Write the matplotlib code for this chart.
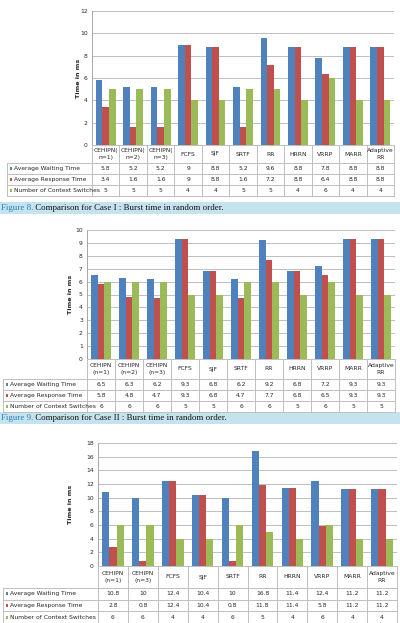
import matplotlib
matplotlib.use("Agg")
import matplotlib.pyplot as plt
from matplotlib.transforms import Affine2D
from matplotlib.patches import Rectangle
import numpy as np

# ---------------- data ----------------
series_names = ["Average Waiting Time", "Average Response Time", "Number of Context Switches"]
series_colors = ["#4F81BD", "#C0504D", "#9BBB59"]

cats1 = ["CEHIPN(\nn=1)", "CEHIPN(\nn=2)", "CEHIPN(\nn=3)", "FCFS", "SJF", "SRTF", "RR", "HRRN", "VRRP", "MARR", "Adaptive\nRR"]
wait1 = [5.8, 5.2, 5.2, 9, 8.8, 5.2, 9.6, 8.8, 7.8, 8.8, 8.8]
resp1 = [3.4, 1.6, 1.6, 9, 8.8, 1.6, 7.2, 8.8, 6.4, 8.8, 8.8]
cs1 = [5, 5, 5, 4, 4, 5, 5, 4, 6, 4, 4]
wait1_lbl = ["5.8", "5.2", "5.2", "9", "8.8", "5.2", "9.6", "8.8", "7.8", "8.8", "8.8"]
resp1_lbl = ["3.4", "1.6", "1.6", "9", "8.8", "1.6", "7.2", "8.8", "6.4", "8.8", "8.8"]
cs1_lbl = ["5", "5", "5", "4", "4", "5", "5", "4", "6", "4", "4"]

cats2 = ["CEHIPN\n(n=1)", "CEHIPN\n(n=2)", "CEHIPN\n(n=3)", "FCFS", "SJF", "SRTF", "RR", "HRRN", "VRRP", "MARR", "Adaptive\nRR"]
wait2 = [6.5, 6.3, 6.2, 9.3, 6.8, 6.2, 9.2, 6.8, 7.2, 9.3, 9.3]
resp2 = [5.8, 4.8, 4.7, 9.3, 6.8, 4.7, 7.7, 6.8, 6.5, 9.3, 9.3]
cs2 = [6, 6, 6, 5, 5, 6, 6, 5, 6, 5, 5]
wait2_lbl = ["6.5", "6.3", "6.2", "9.3", "6.8", "6.2", "9.2", "6.8", "7.2", "9.3", "9.3"]
resp2_lbl = ["5.8", "4.8", "4.7", "9.3", "6.8", "4.7", "7.7", "6.8", "6.5", "9.3", "9.3"]
cs2_lbl = ["6", "6", "6", "5", "5", "6", "6", "5", "6", "5", "5"]

cats3 = ["CEHIPN\n(n=1)", "CEHIPN\n(n=3)", "FCFS", "SJF", "SRTF", "RR", "HRRN", "VRRP", "MARR", "Adaptive\nRR"]
wait3 = [10.8, 10, 12.4, 10.4, 10, 16.8, 11.4, 12.4, 11.2, 11.2]
resp3 = [2.8, 0.8, 12.4, 10.4, 0.8, 11.8, 11.4, 5.8, 11.2, 11.2]
cs3 = [6, 6, 4, 4, 6, 5, 4, 6, 4, 4]
wait3_lbl = ["10.8", "10", "12.4", "10.4", "10", "16.8", "11.4", "12.4", "11.2", "11.2"]
resp3_lbl = ["2.8", "0.8", "12.4", "10.4", "0.8", "11.8", "11.4", "5.8", "11.2", "11.2"]
cs3_lbl = ["6", "6", "4", "4", "6", "5", "4", "6", "4", "4"]

yticks1 = [0, 2, 4, 6, 8, 10, 12]
yticks2 = [0, 1, 2, 3, 4, 5, 6, 7, 8, 9, 10]
yticks3 = [0, 2, 4, 6, 8, 10, 12, 14, 16, 18]

caption8 = ("Figure 8.", " Comparison for Case I : Burst time in random order.")
caption9 = ("Figure 9.", " Comparison for Case II : Burst time in random order.")

# ---------------- figure ----------------
W, H = 400, 623
fig = plt.figure(figsize=(W / 100, H / 100), dpi=100)
fig.patch.set_facecolor("white")
PX = Affine2D().scale(1.0 / W, -1.0 / H).translate(0, 1) + fig.transFigure

GRID = "#BFBFBF"
TXT = "#262626"
FS = 4.3


def draw_chart(box, table_left, rows, cats, series, labels, yticks, ylabel_x):
    left, right, top, bottom = box
    ax = fig.add_axes([left / W, 1 - bottom / H, (right - left) / W, (bottom - top) / H])
    n = len(cats)
    x = np.arange(n)
    bw = 0.24
    for k, (vals, col) in enumerate(zip(series, series_colors)):
        ax.bar(x + (k - 1) * bw, vals, width=bw, color=col, zorder=3, linewidth=0)
    ax.set_xlim(-0.5, n - 0.5)
    ax.set_ylim(yticks[0], yticks[-1])
    ax.set_yticks(yticks)
    ax.set_yticklabels([str(t) for t in yticks], fontsize=FS, color=TXT)
    ax.set_xticks([])
    ax.yaxis.grid(True, color=GRID, linewidth=0.7, zorder=0)
    for s in ["top", "right"]:
        ax.spines[s].set_visible(False)
    ax.spines["left"].set_color("#A6A6A6")
    ax.spines["left"].set_linewidth(0.7)
    ax.spines["bottom"].set_color(GRID)
    ax.spines["bottom"].set_linewidth(0.7)
    ax.tick_params(axis="y", length=0, pad=3.0)
    fig.add_artist(plt.Text(ylabel_x, (top + bottom) / 2, "Time in ms", transform=PX,
                            rotation=90, fontsize=4.6, fontweight="bold", color=TXT,
                            ha="center", va="center"))

    # table
    colw = (right - left) / n
    ys = rows  # [y_cat_top, y_row1_top, y_row2_top, y_row3_top, y_bottom]
    lc = GRID
    lw = 0.7
    fig.add_artist(plt.Line2D([left, right], [ys[0], ys[0]], transform=PX, color=lc, lw=lw))
    for yy in ys[1:]:
        fig.add_artist(plt.Line2D([table_left, right], [yy, yy], transform=PX, color=lc, lw=lw))
    for i in range(n + 1):
        xx = left + i * colw
        fig.add_artist(plt.Line2D([xx, xx], [ys[0], ys[-1]], transform=PX, color=lc, lw=lw))
    fig.add_artist(plt.Line2D([table_left, table_left], [ys[1], ys[-1]], transform=PX, color=lc, lw=lw))
    for i, c in enumerate(cats):
        fig.add_artist(plt.Text(left + (i + 0.5) * colw, (ys[0] + ys[1]) / 2, c, transform=PX,
                                fontsize=FS, color=TXT, ha="center", va="center", linespacing=1.5))
    for r, (name, col, lbls) in enumerate(zip(series_names, series_colors, labels)):
        yc = (ys[r + 1] + ys[r + 2]) / 2
        fig.add_artist(Rectangle((table_left + 2.5, yc - 1.4), 2.8, 2.8, transform=PX,
                                 facecolor=col, edgecolor="none"))
        fig.add_artist(plt.Text(table_left + 7, yc, name, transform=PX, fontsize=FS, color=TXT,
                                ha="left", va="center"))
        for i, t in enumerate(lbls):
            fig.add_artist(plt.Text(left + (i + 0.5) * colw, yc, t, transform=PX, fontsize=FS,
                                    color=TXT, ha="center", va="center"))
    return ax


def draw_caption(y0, y1, parts):
    fig.add_artist(Rectangle((0, y0), W, y1 - y0, transform=PX, facecolor="#C5E3EE",
                             edgecolor="none"))
    t1 = plt.Text(1, (y0 + y1) / 2 + 0.5, parts[0], transform=PX, fontsize=6.4,
                  family="Liberation Serif", color="#2A7FB8", ha="left", va="center")
    fig.add_artist(t1)
    fig.canvas.draw()
    bb = t1.get_window_extent()
    xend = bb.x1 / fig.dpi * 100
    fig.add_artist(plt.Text(xend, (y0 + y1) / 2 + 0.5, parts[1], transform=PX, fontsize=6.4,
                            family="Liberation Serif", color="#111111", ha="left", va="center"))


draw_chart((92, 394, 11, 145), 7, [145, 163, 174, 185, 196], cats1,
           [wait1, resp1, cs1], [wait1_lbl, resp1_lbl, cs1_lbl], yticks1, 79)
draw_caption(202, 214, caption8)

draw_chart((87, 395, 230, 359), 3, [359, 379, 390, 401, 411.5], cats2,
           [wait2, resp2, cs2], [wait2_lbl, resp2_lbl, cs2_lbl], yticks2, 70)
draw_caption(412, 424, caption9)

draw_chart((98, 397, 443, 566), 3, [566, 588, 599.6, 611.3, 623], cats3,
           [wait3, resp3, cs3], [wait3_lbl, resp3_lbl, cs3_lbl], yticks3, 71)

fig.savefig("out.png", dpi=100, facecolor="white")
